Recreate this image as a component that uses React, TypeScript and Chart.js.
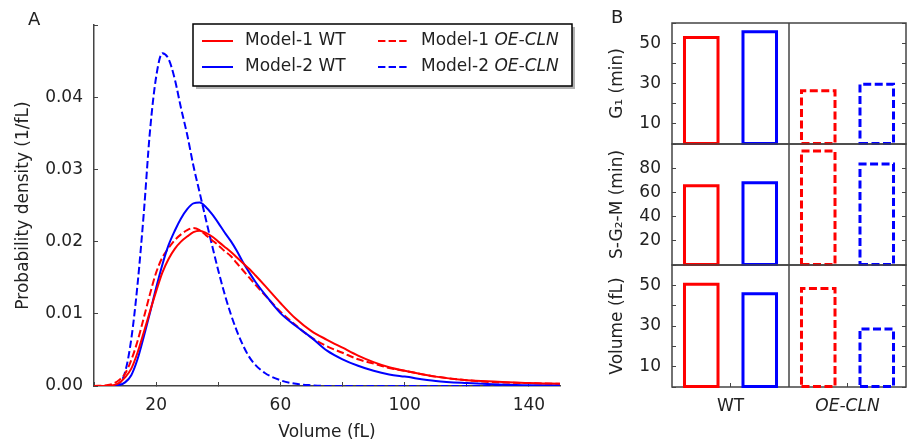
import React, { useEffect, useRef } from 'react';
import { Chart, registerables } from 'chart.js';

Chart.register(...registerables);

const FONT_FAMILY = "'DejaVu Sans', sans-serif";
const TEXT = '#222222';
const AXIS = '#444444';
const RED = '#ff0000';
const BLUE = '#0000ff';

// ---------- Panel A data ----------
const volume = [0, 4, 6, 8, 10, 12, 14, 16, 18, 20, 22, 24, 26, 28, 30, 32, 34, 36, 38, 40, 42, 44, 46, 48, 50, 52, 55, 60, 65, 70, 75, 80, 85, 90, 95, 100, 110, 120, 130, 140, 150];
const model1WT = [0, 0, 0.0001, 0.0004, 0.0012, 0.0024, 0.0046, 0.0074, 0.0103, 0.0131, 0.0157, 0.0176, 0.0190, 0.0200, 0.0207, 0.0213, 0.0215, 0.0212, 0.0207, 0.0200, 0.0193, 0.0186, 0.0178, 0.0170, 0.0162, 0.0153, 0.0139, 0.0115, 0.0093, 0.0076, 0.0064, 0.0053, 0.0042, 0.0033, 0.0026, 0.0021, 0.0013, 0.0008, 0.0006, 0.0004, 0.0003];
const model2WT = [0, 0, 0, 0.0001, 0.0005, 0.0015, 0.0037, 0.0068, 0.0101, 0.0136, 0.0168, 0.0195, 0.0215, 0.0232, 0.0245, 0.0253, 0.0254, 0.0248, 0.0238, 0.0226, 0.0213, 0.0201, 0.0187, 0.0171, 0.0157, 0.0144, 0.0127, 0.0101, 0.0083, 0.0067, 0.0049, 0.0037, 0.0028, 0.0021, 0.0016, 0.0013, 0.0007, 0.0004, 0.0002, 0.0001, 0.0001];
const model1OE = [0, 0.0001, 0.0003, 0.0008, 0.0017, 0.0036, 0.0062, 0.0094, 0.0127, 0.0157, 0.0178, 0.0191, 0.0202, 0.0210, 0.0216, 0.0219, 0.0216, 0.0209, 0.0202, 0.0195, 0.0187, 0.0180, 0.0170, 0.0160, 0.0150, 0.0140, 0.0126, 0.0103, 0.0084, 0.0067, 0.0055, 0.0046, 0.0037, 0.0031, 0.0025, 0.0021, 0.0013, 0.0008, 0.0005, 0.0004, 0.0003];
const model2OE = [0, 0, 0, 0.0003, 0.0019, 0.0065, 0.0140, 0.0238, 0.0352, 0.0428, 0.0461, 0.0453, 0.0425, 0.0385, 0.0348, 0.0305, 0.0268, 0.0231, 0.0195, 0.0160, 0.0128, 0.0100, 0.0076, 0.0056, 0.0040, 0.0029, 0.0018, 0.0008, 0.0003, 0.0001, 0, 0, 0, 0, 0, 0, 0, 0, 0, 0, 0];
const volumeTickLabels = [20, 60, 100, 140];
const densityTickLabels = [0, 0.01, 0.02, 0.03, 0.04];

// ---------- Panel B data ----------
const groups = ['WT', 'OE-CLN'];
const g1Model1 = [52.8, 26.4];
const g1Model2 = [55.7, 29.6];
const sg2mModel1 = [65.5, 94.2];
const sg2mModel2 = [68.0, 83.5];
const volModel1 = [50.5, 48.4];
const volModel2 = [45.9, 28.5];
const g1TickLabels = [10, 30, 50];
const sg2mTickLabels = [20, 40, 60, 80];
const volTickLabels = [10, 30, 50];

const font17 = { family: FONT_FAMILY, size: 17 };

const zeroPadding = (s: any) => {
  s.paddingTop = 0;
  s.paddingBottom = 0;
  s.paddingLeft = 0;
  s.paddingRight = 0;
};

// ---------- plugins ----------
const legendPlugin = {
  id: 'mixedLegend',
  afterDraw(chart: any) {
    const ctx = chart.ctx as CanvasRenderingContext2D;
    const bx = 193, by = 24, bw = 379, bh = 62;
    ctx.save();
    ctx.fillStyle = 'rgba(0,0,0,0.3)';
    ctx.fillRect(bx + 3, by + 3, bw, bh);
    ctx.fillStyle = '#ffffff';
    ctx.fillRect(bx, by, bw, bh);
    ctx.strokeStyle = '#000000';
    ctx.lineWidth = 1.5;
    ctx.strokeRect(bx, by, bw, bh);
    const cols = [202, 378];
    const rows = [41, 67];
    const order = [[0, 2], [1, 3]];
    order.forEach((rowIdx, r) => {
      rowIdx.forEach((di, c) => {
        const ds = chart.data.datasets[di];
        const x0 = cols[c];
        const y = rows[r];
        ctx.strokeStyle = ds.borderColor;
        ctx.lineWidth = 2;
        ctx.setLineDash(ds.borderDash || []);
        ctx.beginPath();
        ctx.moveTo(x0, y);
        ctx.lineTo(x0 + 31, y);
        ctx.stroke();
        ctx.setLineDash([]);
        ctx.fillStyle = TEXT;
        ctx.textBaseline = 'middle';
        ctx.textAlign = 'left';
        const label: string = ds.label;
        const italicPart = 'OE-CLN';
        const idx = label.indexOf(italicPart);
        let tx = x0 + 43;
        if (idx >= 0) {
          const pre = label.slice(0, idx);
          ctx.font = `17px ${FONT_FAMILY}`;
          ctx.fillText(pre, tx, y);
          tx += ctx.measureText(pre).width;
          ctx.font = `italic 17px ${FONT_FAMILY}`;
          ctx.fillText(italicPart, tx, y);
        } else {
          ctx.font = `17px ${FONT_FAMILY}`;
          ctx.fillText(label, tx, y);
        }
      });
    });
    ctx.restore();
  },
};

const framePlugin = {
  id: 'frame',
  beforeDatasetsDraw(chart: any) {
    const { ctx, chartArea } = chart;
    const xs = chart.scales.x;
    ctx.save();
    ctx.strokeStyle = AXIS;
    ctx.lineWidth = 1.5;
    ctx.strokeRect(chartArea.left, chartArea.top, chartArea.right - chartArea.left, chartArea.bottom - chartArea.top);
    const mid = (xs.getPixelForValue(1) + xs.getPixelForValue(2)) / 2;
    ctx.beginPath();
    ctx.moveTo(mid, chartArea.top);
    ctx.lineTo(mid, chartArea.bottom);
    ctx.stroke();
    ctx.restore();
  },
};

const barOutlinePlugin = {
  id: 'barOutline',
  afterDatasetsDraw(chart: any) {
    const ctx = chart.ctx as CanvasRenderingContext2D;
    chart.data.datasets.forEach((ds: any, di: number) => {
      const meta = chart.getDatasetMeta(di);
      meta.data.forEach((el: any, i: number) => {
        const { x, y, base, width } = el.getProps(['x', 'y', 'base', 'width'], true);
        const l = x - width / 2;
        const r = x + width / 2;
        ctx.save();
        ctx.strokeStyle = ds.outlineColor;
        ctx.lineWidth = 3;
        ctx.lineJoin = 'miter';
        ctx.setLineDash(groups[i] === 'OE-CLN' ? [8, 3.5] : []);
        ctx.beginPath();
        ctx.moveTo(l, base);
        ctx.lineTo(r, base);
        ctx.lineTo(r, y);
        ctx.lineTo(l, y);
        ctx.closePath();
        ctx.stroke();
        ctx.restore();
      });
    });
  },
};

// ---------- Panel A ----------
function lineDataset(label: string, values: number[], color: string, dashed: boolean) {
  return {
    label,
    data: volume.map((v, i) => ({ x: v, y: values[i] })),
    borderColor: color,
    backgroundColor: color,
    borderWidth: 2,
    borderDash: dashed ? [7.4, 3.2] : [],
    pointRadius: 0,
    fill: false,
    cubicInterpolationMode: 'monotone',
  };
}

function DensityPanel() {
  const ref = useRef<HTMLCanvasElement>(null);
  useEffect(() => {
    const chart = new Chart(ref.current as HTMLCanvasElement, {
      type: 'line',
      data: {
        datasets: [
          lineDataset('Model-1 WT', model1WT, RED, false),
          lineDataset('Model-2 WT', model2WT, BLUE, false),
          lineDataset('Model-1 OE-CLN', model1OE, RED, true),
          lineDataset('Model-2 OE-CLN', model2OE, BLUE, true),
        ] as any,
      },
      options: {
        animation: false,
        responsive: false,
        maintainAspectRatio: false,
        events: [],
        layout: { padding: { top: 25, right: 40, bottom: 0, left: 0 } },
        plugins: { legend: { display: false }, tooltip: { enabled: false } },
        scales: {
          x: {
            type: 'linear',
            min: 0,
            max: 150,
            ticks: {
              stepSize: 20,
              includeBounds: false,
              autoSkip: false,
              maxRotation: 0,
              padding: 13.5,
              color: TEXT,
              font: font17,
              callback: (v: any) => (volumeTickLabels.includes(Number(v)) ? String(v) : ''),
            },
            grid: { drawOnChartArea: false, drawTicks: true, tickLength: -4, color: AXIS, lineWidth: 1 },
            border: { display: true, color: AXIS, width: 1.5 },
            title: { display: true, text: 'Volume (fL)', color: TEXT, font: font17, padding: { top: 0, bottom: 1 } },
            afterFit: (s: any) => { s.height = 58; zeroPadding(s); },
          },
          y: {
            type: 'linear',
            min: 0,
            max: 0.05,
            ticks: {
              stepSize: 0.01,
              autoSkip: false,
              padding: 15,
              color: TEXT,
              font: font17,
              callback: (v: any) => {
                const n = Number(v);
                return densityTickLabels.some((t) => Math.abs(t - n) < 1e-6) ? n.toFixed(2) : '';
              },
            },
            grid: { drawOnChartArea: false, drawTicks: true, tickLength: -4, color: AXIS, lineWidth: 1 },
            border: { display: true, color: AXIS, width: 1.5 },
            title: { display: true, text: 'Probability density (1/fL)', color: TEXT, font: font17, padding: { top: 13, bottom: 0 } },
            afterFit: (s: any) => { s.width = 94; zeroPadding(s); },
          },
        },
      } as any,
      plugins: [legendPlugin],
    });
    return () => chart.destroy();
  }, []);
  return (
    <canvas
      ref={ref}
      width={600}
      height={444}
      style={{ position: 'absolute', left: 0, top: 0, width: 600, height: 444 }}
    />
  );
}

// ---------- Panel B ----------
type BarProps = {
  top: number;
  height: number;
  title: string;
  model1: number[];
  model2: number[];
  yMax: number;
  step: number;
  labeled: number[];
  showX: boolean;
  padTop: number;
  padBottom: number;
};

function BarPanel(p: BarProps) {
  const ref = useRef<HTMLCanvasElement>(null);
  useEffect(() => {
    const groupCenters = groups.map((_, i) => i * 2 + 0.5);
    const chart = new Chart(ref.current as HTMLCanvasElement, {
      type: 'bar',
      data: {
        datasets: [
          {
            label: 'Model-1',
            data: groups.map((_, i) => ({ x: i * 2, y: p.model1[i] })),
            outlineColor: RED,
            backgroundColor: 'rgba(0,0,0,0)',
            borderWidth: 0,
            grouped: false,
            barPercentage: 0.573,
            categoryPercentage: 1,
          },
          {
            label: 'Model-2',
            data: groups.map((_, i) => ({ x: i * 2 + 1, y: p.model2[i] })),
            outlineColor: BLUE,
            backgroundColor: 'rgba(0,0,0,0)',
            borderWidth: 0,
            grouped: false,
            barPercentage: 0.573,
            categoryPercentage: 1,
          },
        ] as any,
      },
      options: {
        animation: false,
        responsive: false,
        maintainAspectRatio: false,
        events: [],
        layout: { padding: { top: p.padTop, right: 2, bottom: p.padBottom, left: 0 } },
        plugins: { legend: { display: false }, tooltip: { enabled: false } },
        scales: {
          x: {
            type: 'linear',
            display: p.showX,
            min: -0.5,
            max: 3.5,
            offset: false,
            afterBuildTicks: (s: any) => { s.ticks = groupCenters.map((v) => ({ value: v })); },
            ticks: {
              autoSkip: false,
              maxRotation: 0,
              padding: 13.5,
              color: TEXT,
              font: (c: any) => ({ family: FONT_FAMILY, size: 17, style: groups[c.index] === 'OE-CLN' ? 'italic' : 'normal' }),
              callback: (_v: any, i: number) => groups[i],
            },
            grid: { offset: false, drawOnChartArea: false, drawTicks: true, tickLength: -4, color: AXIS, lineWidth: 1 },
            border: { display: false },
            afterFit: (s: any) => { s.height = p.showX ? 57 : 0; zeroPadding(s); },
          },
          y: {
            type: 'linear',
            min: 0,
            max: p.yMax,
            ticks: {
              stepSize: p.step,
              autoSkip: false,
              padding: 15,
              color: TEXT,
              font: font17,
              callback: (v: any) => (p.labeled.includes(Number(v)) ? String(v) : ''),
            },
            grid: { drawOnChartArea: false, drawTicks: true, tickLength: -4, color: AXIS, lineWidth: 1 },
            border: { display: false },
            title: { display: true, text: p.title, color: TEXT, font: font17, padding: { top: 7, bottom: 0 } },
            afterFit: (s: any) => { s.width = 72; zeroPadding(s); },
          },
          yR: {
            type: 'linear',
            position: 'right',
            min: 0,
            max: p.yMax,
            ticks: { stepSize: p.step, display: false, autoSkip: false },
            grid: { drawOnChartArea: false, drawTicks: true, tickLength: -4, color: AXIS, lineWidth: 1 },
            border: { display: false },
            afterFit: (s: any) => { s.width = 0; zeroPadding(s); },
          },
        },
      } as any,
      plugins: [framePlugin, barOutlinePlugin],
    });
    return () => chart.destroy();
  }, []);
  return (
    <canvas
      ref={ref}
      width={308}
      height={p.height}
      style={{ position: 'absolute', left: 600, top: p.top, width: 308, height: p.height }}
    />
  );
}

const panelLabel: React.CSSProperties = {
  position: 'absolute',
  fontFamily: FONT_FAMILY,
  fontSize: 18,
  lineHeight: '18px',
  color: TEXT,
  margin: 0,
};

export default function App() {
  return (
    <div style={{ position: 'absolute', left: 0, top: 0, width: 908, height: 444, background: '#ffffff', overflow: 'hidden' }}>
      <DensityPanel />
      <BarPanel top={0} height={150} title="G₁ (min)" model1={g1Model1} model2={g1Model2} yMax={60} step={10} labeled={g1TickLabels} showX={false} padTop={23} padBottom={6} />
      <BarPanel top={138} height={133} title="S-G₂-M (min)" model1={sg2mModel1} model2={sg2mModel2} yMax={100} step={20} labeled={sg2mTickLabels} showX={false} padTop={6} padBottom={6} />
      <BarPanel top={259} height={185} title="Volume (fL)" model1={volModel1} model2={volModel2} yMax={60} step={10} labeled={volTickLabels} showX={true} padTop={6} padBottom={0} />
      <div style={{ ...panelLabel, left: 28, top: 10 }}>A</div>
      <div style={{ ...panelLabel, left: 611, top: 8 }}>B</div>
    </div>
  );
}
